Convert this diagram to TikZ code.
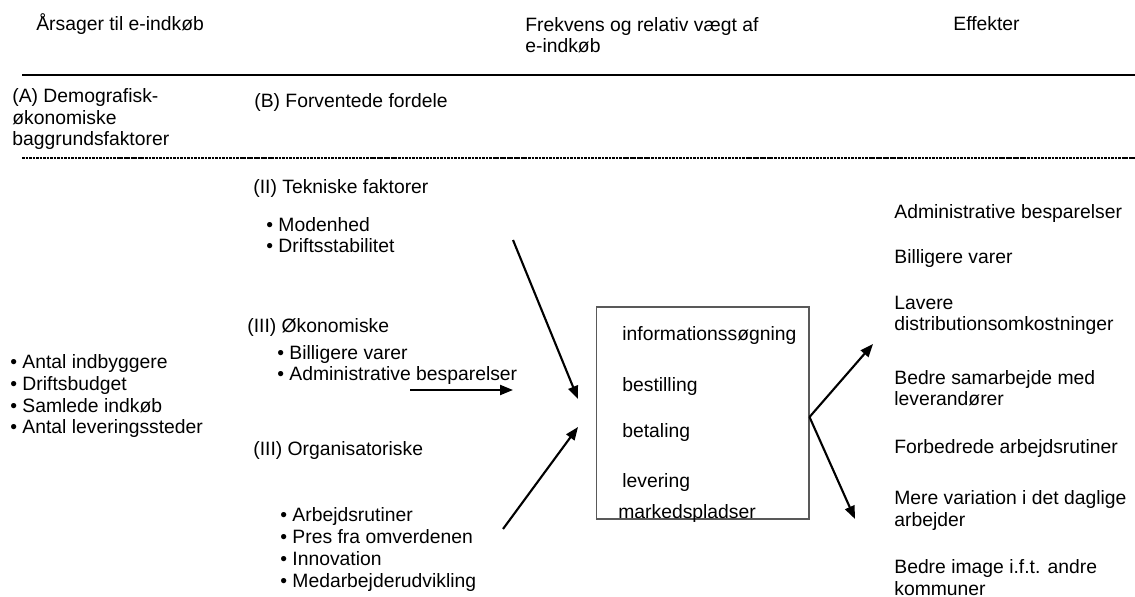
\documentclass[tikz,border=0pt]{standalone}
\usepackage{fontspec}
\setmainfont{Liberation Sans}
\usetikzlibrary{positioning, arrows.meta}

\begin{document}
\begin{tikzpicture}[
    x=0.02cm, y=-0.02cm,
    txt/.style={anchor=base west, inner sep=0pt, align=left, font=\fontsize{11}{12.47}\selectfont},
    arrow/.style={->, >={Triangle[length=2.6mm, width=2mm]}, line width=1.2pt},
    procbox/.style={rectangle, draw=black!65, line width=0.6pt, minimum width=4.26cm, minimum height=4.24cm}
  ]
  \useasboundingbox (0,0) rectangle (1135,597);

  % Headings (multi-line nodes sit on the baseline of their last line)
  \node[txt] (hCause) at (36,31) {Årsager til e-indkøb};
  \node[txt] (hFreq) at (525,53) {Frekvens og relativ vægt af\\e-indkøb};
  \node[txt] (hEff) at (953,31) {Effekter};

  % Rules
  \draw[line width=0.8pt] (22,75) -- (1135,75);
  \draw[line width=0.8pt, dash pattern=on 1.5pt off 0.5pt] (22,158) -- (1135,158);

  % Column groups
  \node[txt] (grpA) at (12,146) {(A) Demografisk-\\økonomiske\\baggrundsfaktorer};
  \node[txt] (grpB) at (254,108) {(B) Forventede fordele};

  % Background factors
  \node[txt] (bg) at (10,434) {• Antal indbyggere\\• Driftsbudget\\• Samlede indkøb\\• Antal leveringssteder};

  % Expected benefits
  \node[txt] (tek) at (253,194) {(II) Tekniske faktorer};
  \node[txt] (tekList) at (266,253) {• Modenhed\\• Driftsstabilitet};
  \node[txt] (oek) at (247,333) {(III) Økonomiske};
  \node[txt] (oekList) at (277,381) {• Billigere varer\\• Administrative besparelser};
  \node[txt] (org) at (253,456) {(III) Organisatoriske};
  \node[txt] (orgList) at (280,587) {• Arbejdsrutiner\\• Pres fra omverdenen\\• Innovation\\• Medarbejderudvikling};

  % E-procurement box
  \node[procbox] (proc) at (702.5,413) {};
  \node[txt] (info) at (622,341) {informationssøgning};
  \node[txt] (order) at (622,392) {bestilling};
  \node[txt] (pay) at (622,438) {betaling};
  \node[txt] (deliv) at (622,487) {levering};
  \node[txt] (market) at (618,518) {markedspladser};

  % Effects
  \node[txt] (e1) at (894,219) {Administrative besparelser};
  \node[txt] (e2) at (894,264) {Billigere varer};
  \node[txt] (e3) at (894,331) {Lavere\\distributionsomkostninger};
  \node[txt] (e4) at (894,406) {Bedre samarbejde med\\leverandører};
  \node[txt] (e5) at (894,453) {Forbedrede arbejdsrutiner};
  \node[txt] (e6) at (894,526) {Mere variation i det daglige\\arbejder};
  \node[txt] (e7) at (894,595) {Bedre image i.f.t. andre\\kommuner};

  % Arrow ends
  \coordinate (tekTail) at (513,240);
  \coordinate (tekHead) at (578,399);
  \coordinate (oekTail) at (410,390);
  \coordinate (oekHead) at (513,390);
  \coordinate (orgTail) at (503,529);
  \coordinate (orgHead) at (578,427);
  \coordinate (split) at (proc.east |- 0,417);
  \coordinate (upHead) at (873,344);
  \coordinate (downHead) at (855,519);

  % Arrows
  \draw[arrow] (tekTail) -- (tekHead);
  \draw[arrow] (oekTail) -- (oekHead);
  \draw[arrow] (orgTail) -- (orgHead);
  \draw[arrow] (split) -- (upHead);
  \draw[arrow] (split) -- (downHead);
\end{tikzpicture}
\end{document}
